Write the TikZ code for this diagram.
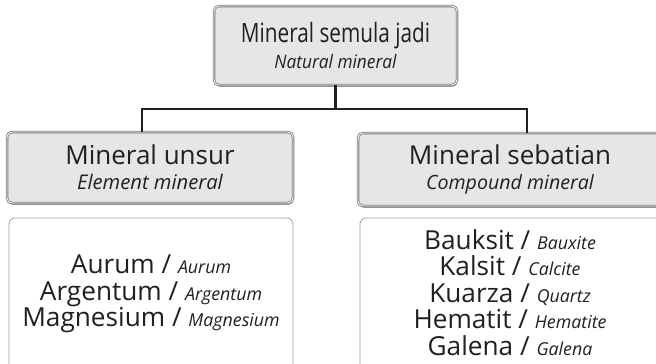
\documentclass[tikz,border=0pt]{standalone}
\usepackage{fontspec}
\setmainfont{Open Sans}
\newfontfamily\mf{Open Sans}
\newfontfamily\mfc[FakeStretch=0.78]{Open Sans}
\newfontfamily\mfci[FakeStretch=0.93]{Open Sans}
\usetikzlibrary{shadows}
\definecolor{ink}{HTML}{231F20}
\definecolor{boxfill}{HTML}{E6E6E6}
\definecolor{boxedge}{HTML}{7A7A7A}
\definecolor{plainedge}{HTML}{A0A0A0}
\newcommand{\tightlines}{\lineskiplimit=-20pt\relax}
\tikzset{
  headbox/.style={rounded corners=5pt, fill=boxfill, draw=boxedge, line width=0.8pt,
    double=white, double distance=0.9pt, inner sep=0pt, align=center, text=ink,
    drop shadow={shadow xshift=0.6pt, shadow yshift=-1.8pt, opacity=0.6, fill=gray!80!black}},
  listbox/.style={rounded corners=6pt, fill=white, draw=plainedge, line width=0.8pt, inner sep=0pt},
  listtext/.style={inner sep=0pt, align=center, text=ink,
    font={\mf\fontsize{26.2}{26.5}\selectfont\tightlines}},
  link/.style={draw=ink, line width=2pt},
  trunk/.style={draw=ink, line width=2.8pt}
}
\newcommand{\en}[1]{{\itshape\fontsize{17.8}{26.5}\selectfont #1}}
\begin{document}
\begin{tikzpicture}[x=1pt,y=-1pt]
\useasboundingbox (0,0) rectangle (656,364);
% top
\node[headbox, minimum width=243pt, minimum height=79pt,
      font={\mfc\fontsize{26.6}{26}\selectfont\tightlines}] (top) at (335.5,45.5)
  {Mineral semula jadi\\{\mfci\itshape\fontsize{18.6}{26}\selectfont Natural mineral}};
% children
\node[headbox, minimum width=286pt, minimum height=71pt,
      font={\mf\fontsize{26}{25}\selectfont\tightlines}] (left) at (150,167.5)
  {Mineral unsur\\{\itshape\fontsize{20.2}{25}\selectfont Element mineral}};
\node[headbox, minimum width=304pt, minimum height=73pt,
      font={\mf\fontsize{26}{25}\selectfont\tightlines}] (right) at (510,169.5)
  {Mineral sebatian\\{\itshape\fontsize{19.6}{25}\selectfont Compound mineral}};
% lists
\node[listbox, minimum width=284pt, minimum height=156pt] (leftlist) at (151,296) {};
\node[listtext] (lefttext) at (151,294)
  {Aurum / \en{Aurum}\\Argentum / \en{Argentum}\\Magnesium / \en{Magnesium}};
\node[listbox, minimum width=302pt, minimum height=156pt] (rightlist) at (511,296) {};
\node[listtext] (righttext) at (510,292.5)
  {Bauksit / \en{Bauxite}\\Kalsit / \en{Calcite}\\Kuarza / \en{Quartz}\\Hematit / \en{Hematite}\\Galena / \en{Galena}};
% connectors
\coordinate (jl) at (142,109);
\coordinate (jr) at (527,109);
\draw[trunk] (top.south) -- (top.south |- jl);
\draw[link] (jl |- left.north) -- (jl) -- (jr) -- (jr |- right.north);
\end{tikzpicture}
\end{document}
